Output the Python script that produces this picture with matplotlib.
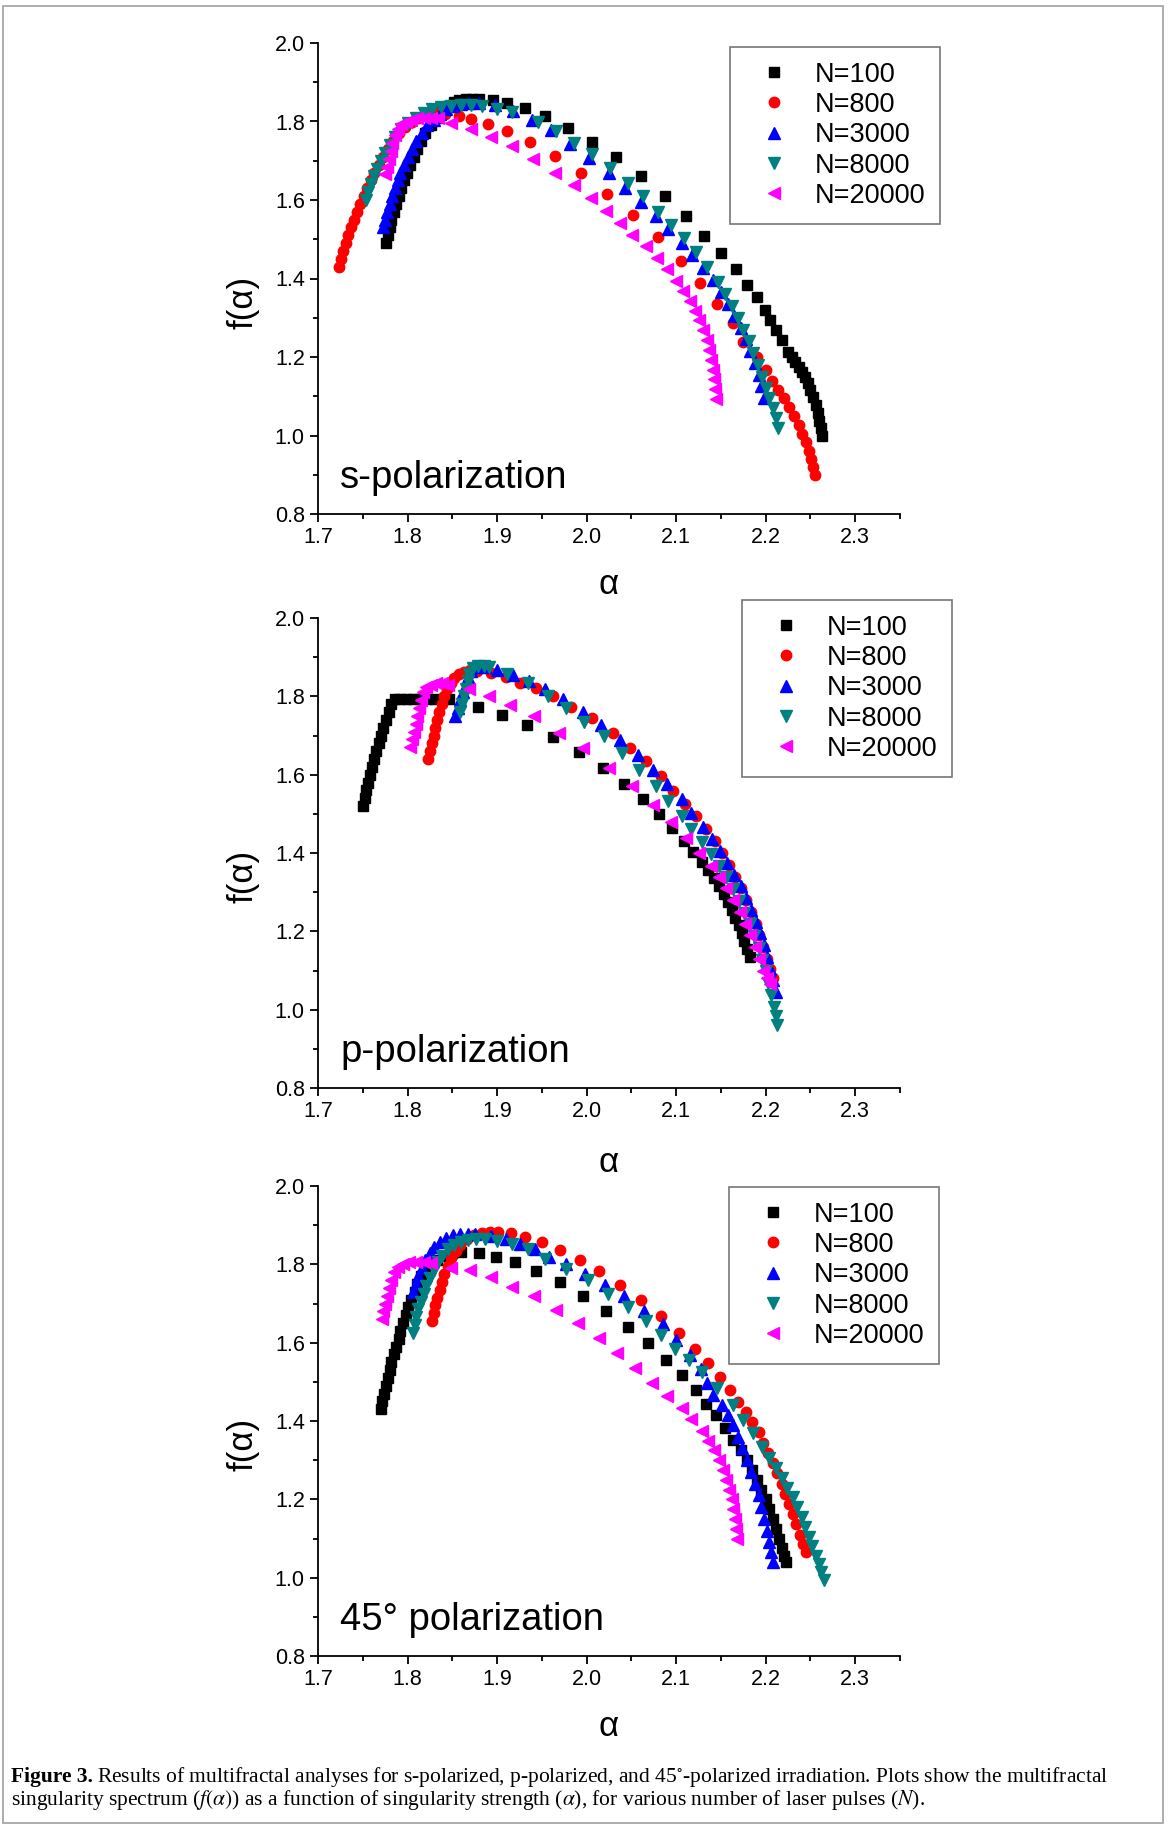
import matplotlib
matplotlib.use("Agg")
import matplotlib.pyplot as plt
from matplotlib.patches import Rectangle
from matplotlib.ticker import MultipleLocator

plt.rcParams['font.family'] = ['Liberation Sans', 'DejaVu Sans']
plt.rcParams['mathtext.fontset'] = 'stix'

labels = ["N=100", "N=800", "N=3000", "N=8000", "N=20000"]
colors = ["#000000", "#ff0000", "#0000ff", "#008080", "#ff00ff"]
markers = ["s", "o", "^", "v", "<"]
msizes = [7.0, 7.5, 8.0, 8.0, 8.0]

panel_names = ["s-polarization", "p-polarization", "45\u00b0 polarization"]

# (alpha, f(alpha))
# --- s-polarization ---
s_n100 = [(1.776,1.49),(1.778,1.51),(1.780,1.53),(1.782,1.55),(1.785,1.57),(1.787,1.59),(1.790,1.61),(1.793,1.63),(1.796,1.65),(1.799,1.67),(1.803,1.69),(1.807,1.71),(1.811,1.73),(1.815,1.75),(1.820,1.77),(1.826,1.79),(1.832,1.81),(1.838,1.825),(1.845,1.84),(1.852,1.85),(1.858,1.855),(1.865,1.857),(1.872,1.857),(1.880,1.857),(1.895,1.856),(1.911,1.847),(1.931,1.834),(1.953,1.813),(1.979,1.784),(2.006,1.749),(2.033,1.709),(2.061,1.661),(2.087,1.611),(2.111,1.560),(2.131,1.508),(2.150,1.465),(2.167,1.424),(2.179,1.383),(2.190,1.353),(2.199,1.320),(2.205,1.294),(2.212,1.269),(2.218,1.243),(2.225,1.213),(2.229,1.200),(2.233,1.187),(2.237,1.174),(2.241,1.162),(2.244,1.148),(2.247,1.134),(2.250,1.116),(2.253,1.098),(2.256,1.078),(2.258,1.058),(2.260,1.038),(2.262,1.018),(2.263,1.000)]
s_n800 = [(1.724,1.43),(1.726,1.45),(1.728,1.47),(1.731,1.49),(1.734,1.51),(1.737,1.53),(1.740,1.55),(1.743,1.57),(1.747,1.59),(1.751,1.61),(1.755,1.63),(1.759,1.65),(1.763,1.67),(1.768,1.69),(1.773,1.71),(1.778,1.73),(1.784,1.75),(1.790,1.77),(1.797,1.785),(1.805,1.80),(1.813,1.81),(1.822,1.818),(1.832,1.821),(1.842,1.82),(1.857,1.814),(1.871,1.807),(1.890,1.793),(1.911,1.775),(1.937,1.747),(1.965,1.712),(1.994,1.668),(2.023,1.616),(2.052,1.562),(2.080,1.505),(2.105,1.445),(2.127,1.389),(2.146,1.335),(2.163,1.287),(2.175,1.238),(2.190,1.200),(2.200,1.167),(2.207,1.140),(2.214,1.116),(2.220,1.095),(2.226,1.072),(2.232,1.050),(2.237,1.028),(2.241,1.005),(2.245,0.983),(2.248,0.960),(2.251,0.940),(2.253,0.920),(2.255,0.900)]
s_n3000 = [(1.773,1.53),(1.775,1.55),(1.777,1.57),(1.780,1.59),(1.783,1.61),(1.786,1.63),(1.789,1.65),(1.792,1.67),(1.796,1.69),(1.800,1.71),(1.805,1.73),(1.810,1.75),(1.816,1.77),(1.822,1.79),(1.829,1.805),(1.836,1.82),(1.843,1.832),(1.851,1.84),(1.860,1.845),(1.869,1.847),(1.880,1.848),(1.898,1.841),(1.918,1.827),(1.939,1.805),(1.960,1.778),(1.982,1.743),(2.003,1.707),(2.025,1.668),(2.043,1.630),(2.061,1.594),(2.077,1.560),(2.091,1.525),(2.106,1.491),(2.118,1.460),(2.130,1.428),(2.141,1.395),(2.150,1.365),(2.158,1.335),(2.165,1.305),(2.172,1.275),(2.178,1.245),(2.183,1.215),(2.188,1.185),(2.192,1.155),(2.195,1.125),(2.198,1.095)]
s_n8000 = [(1.754,1.60),(1.756,1.62),(1.759,1.64),(1.762,1.66),(1.766,1.68),(1.770,1.70),(1.775,1.72),(1.780,1.74),(1.786,1.76),(1.793,1.78),(1.801,1.797),(1.809,1.81),(1.818,1.822),(1.827,1.831),(1.837,1.837),(1.848,1.840),(1.860,1.841),(1.871,1.841),(1.883,1.839),(1.900,1.833),(1.917,1.824),(1.946,1.800),(1.966,1.775),(1.986,1.746),(2.006,1.717),(2.026,1.682),(2.046,1.643),(2.063,1.609),(2.080,1.570),(2.094,1.536),(2.109,1.502),(2.122,1.467),(2.135,1.430),(2.147,1.390),(2.155,1.360),(2.162,1.330),(2.169,1.300),(2.175,1.270),(2.181,1.240),(2.186,1.210),(2.191,1.180),(2.196,1.150),(2.200,1.120),(2.204,1.095),(2.208,1.070),(2.211,1.045),(2.214,1.020)]
s_n20000 = [(1.775,1.665),(1.777,1.685),(1.779,1.705),(1.781,1.725),(1.783,1.745),(1.786,1.765),(1.789,1.780),(1.793,1.793),(1.798,1.800),(1.804,1.805),(1.811,1.808),(1.818,1.810),(1.826,1.810),(1.834,1.808),(1.849,1.795),(1.871,1.780),(1.893,1.761),(1.917,1.738),(1.940,1.704),(1.965,1.668),(1.986,1.638),(2.005,1.604),(2.022,1.572),(2.037,1.541),(2.051,1.511),(2.066,1.482),(2.079,1.453),(2.090,1.423),(2.100,1.394),(2.108,1.368),(2.115,1.343),(2.121,1.318),(2.126,1.293),(2.130,1.268),(2.134,1.243),(2.137,1.218),(2.139,1.193),(2.141,1.168),(2.142,1.143),(2.143,1.118),(2.144,1.093)]

# --- p-polarization ---
p_n100 = [(1.750,1.52),(1.752,1.54),(1.754,1.56),(1.756,1.58),(1.758,1.60),(1.760,1.62),(1.763,1.64),(1.765,1.66),(1.768,1.68),(1.770,1.70),(1.773,1.72),(1.776,1.74),(1.779,1.76),(1.782,1.78),(1.786,1.792),(1.792,1.794),(1.799,1.794),(1.806,1.794),(1.814,1.794),(1.822,1.794),(1.831,1.794),(1.846,1.792),(1.879,1.773),(1.906,1.752),(1.933,1.726),(1.963,1.696),(1.991,1.658),(2.018,1.618),(2.042,1.577),(2.063,1.537),(2.081,1.499),(2.095,1.463),(2.109,1.430),(2.119,1.403),(2.129,1.376),(2.136,1.356),(2.142,1.335),(2.148,1.315),(2.153,1.295),(2.158,1.275),(2.162,1.255),(2.166,1.235),(2.170,1.215),(2.173,1.195),(2.176,1.175),(2.179,1.155),(2.182,1.135)]
p_n800 = [(1.823,1.64),(1.825,1.66),(1.827,1.68),(1.829,1.70),(1.831,1.72),(1.833,1.74),(1.835,1.76),(1.838,1.78),(1.841,1.80),(1.844,1.82),(1.848,1.835),(1.852,1.848),(1.857,1.857),(1.863,1.863),(1.870,1.866),(1.878,1.864),(1.893,1.860),(1.910,1.849),(1.926,1.834),(1.943,1.821),(1.963,1.801),(1.983,1.773),(2.006,1.745),(2.029,1.707),(2.049,1.669),(2.066,1.634),(2.083,1.596),(2.097,1.559),(2.110,1.526),(2.122,1.494),(2.133,1.461),(2.143,1.430),(2.151,1.400),(2.159,1.370),(2.166,1.340),(2.172,1.310),(2.178,1.280),(2.184,1.250),(2.189,1.220),(2.193,1.190),(2.197,1.160),(2.201,1.130),(2.205,1.105),(2.208,1.080)]
p_n3000 = [(1.853,1.75),(1.856,1.77),(1.859,1.79),(1.862,1.81),(1.865,1.83),(1.868,1.85),(1.871,1.865),(1.875,1.875),(1.880,1.877),(1.886,1.876),(1.900,1.868),(1.918,1.855),(1.936,1.838),(1.954,1.819),(1.974,1.792),(1.996,1.759),(2.016,1.726),(2.037,1.688),(2.057,1.650),(2.074,1.611),(2.090,1.575),(2.106,1.537),(2.117,1.502),(2.130,1.466),(2.140,1.435),(2.149,1.405),(2.157,1.375),(2.165,1.345),(2.172,1.315),(2.178,1.285),(2.184,1.255),(2.189,1.225),(2.194,1.195),(2.198,1.165),(2.202,1.135),(2.205,1.105),(2.208,1.075),(2.211,1.045)]
p_n8000 = [(1.859,1.76),(1.861,1.78),(1.863,1.80),(1.865,1.82),(1.867,1.84),(1.869,1.858),(1.873,1.872),(1.879,1.878),(1.885,1.878),(1.891,1.875),(1.911,1.858),(1.934,1.835),(1.957,1.802),(1.977,1.771),(1.997,1.735),(2.019,1.698),(2.040,1.655),(2.059,1.613),(2.077,1.570),(2.091,1.532),(2.106,1.494),(2.117,1.461),(2.129,1.428),(2.139,1.398),(2.148,1.368),(2.156,1.338),(2.163,1.308),(2.170,1.278),(2.176,1.248),(2.182,1.218),(2.187,1.188),(2.192,1.158),(2.196,1.128),(2.200,1.098),(2.203,1.068),(2.206,1.038),(2.209,1.008),(2.211,0.985),(2.213,0.962)]
p_n20000 = [(1.803,1.67),(1.805,1.69),(1.807,1.71),(1.809,1.73),(1.811,1.75),(1.813,1.77),(1.815,1.79),(1.817,1.81),(1.821,1.823),(1.826,1.830),(1.832,1.833),(1.838,1.833),(1.845,1.830),(1.869,1.818),(1.891,1.801),(1.914,1.778),(1.941,1.750),(1.969,1.707),(1.996,1.669),(2.025,1.617),(2.051,1.570),(2.074,1.523),(2.094,1.480),(2.111,1.438),(2.126,1.400),(2.139,1.367),(2.148,1.340),(2.156,1.310),(2.164,1.280),(2.171,1.250),(2.177,1.220),(2.183,1.190),(2.188,1.160),(2.193,1.130),(2.197,1.100),(2.201,1.080),(2.205,1.065)]

# --- 45 degree polarization ---
t_n100 = [(1.770,1.43),(1.772,1.45),(1.774,1.47),(1.776,1.49),(1.778,1.51),(1.780,1.53),(1.782,1.55),(1.785,1.57),(1.787,1.59),(1.790,1.61),(1.792,1.63),(1.795,1.65),(1.798,1.67),(1.801,1.69),(1.804,1.71),(1.808,1.73),(1.811,1.75),(1.815,1.77),(1.820,1.785),(1.826,1.800),(1.833,1.812),(1.841,1.822),(1.850,1.828),(1.860,1.832),(1.880,1.830),(1.899,1.819),(1.920,1.805),(1.944,1.783),(1.970,1.755),(1.996,1.718),(2.022,1.682),(2.046,1.640),(2.069,1.599),(2.089,1.555),(2.107,1.517),(2.122,1.479),(2.133,1.444),(2.144,1.415),(2.155,1.382),(2.164,1.351),(2.172,1.325),(2.179,1.300),(2.185,1.275),(2.190,1.250),(2.195,1.225),(2.200,1.200),(2.204,1.175),(2.208,1.150),(2.212,1.125),(2.215,1.100),(2.218,1.075),(2.221,1.055),(2.223,1.040)]
t_n800 = [(1.827,1.655),(1.829,1.675),(1.831,1.695),(1.833,1.715),(1.836,1.735),(1.838,1.755),(1.841,1.775),(1.845,1.795),(1.849,1.815),(1.854,1.835),(1.859,1.850),(1.866,1.865),(1.874,1.875),(1.883,1.880),(1.892,1.882),(1.901,1.882),(1.916,1.880),(1.931,1.869),(1.950,1.857),(1.970,1.836),(1.993,1.812),(2.014,1.783),(2.037,1.748),(2.061,1.708),(2.083,1.668),(2.103,1.625),(2.121,1.583),(2.136,1.548),(2.149,1.512),(2.160,1.479),(2.169,1.448),(2.178,1.423),(2.185,1.397),(2.192,1.372),(2.197,1.344),(2.203,1.318),(2.208,1.292),(2.213,1.266),(2.218,1.240),(2.222,1.214),(2.226,1.188),(2.230,1.162),(2.234,1.136),(2.238,1.110),(2.242,1.085),(2.245,1.065)]
t_n3000 = [(1.806,1.73),(1.809,1.75),(1.812,1.77),(1.816,1.79),(1.820,1.81),(1.825,1.83),(1.830,1.845),(1.836,1.858),(1.843,1.868),(1.851,1.874),(1.859,1.877),(1.867,1.878),(1.875,1.877),(1.893,1.873),(1.910,1.865),(1.926,1.852),(1.942,1.838),(1.958,1.820),(1.977,1.800),(1.998,1.776),(2.020,1.748),(2.042,1.718),(2.064,1.682),(2.085,1.647),(2.100,1.607),(2.116,1.569),(2.128,1.533),(2.135,1.497),(2.141,1.466),(2.151,1.441),(2.158,1.415),(2.163,1.390),(2.169,1.360),(2.174,1.330),(2.179,1.300),(2.184,1.270),(2.188,1.240),(2.192,1.210),(2.195,1.180),(2.198,1.150),(2.201,1.120),(2.204,1.090),(2.206,1.065),(2.208,1.040)]
t_n8000 = [(1.806,1.625),(1.808,1.645),(1.810,1.665),(1.812,1.685),(1.815,1.705),(1.818,1.725),(1.821,1.745),(1.825,1.765),(1.829,1.785),(1.834,1.805),(1.839,1.822),(1.845,1.838),(1.852,1.850),(1.860,1.858),(1.868,1.862),(1.877,1.864),(1.886,1.864),(1.900,1.860),(1.917,1.852),(1.934,1.838),(1.954,1.814),(1.977,1.789),(2.001,1.760),(2.024,1.725),(2.046,1.690),(2.066,1.655),(2.083,1.620),(2.099,1.585),(2.114,1.555),(2.129,1.525),(2.146,1.484),(2.163,1.441),(2.175,1.402),(2.186,1.369),(2.196,1.334),(2.204,1.305),(2.211,1.280),(2.218,1.255),(2.224,1.230),(2.230,1.205),(2.235,1.180),(2.240,1.155),(2.244,1.130),(2.248,1.105),(2.252,1.080),(2.256,1.055),(2.259,1.035),(2.262,1.015),(2.265,0.995)]
t_n20000 = [(1.771,1.660),(1.773,1.680),(1.775,1.700),(1.777,1.720),(1.779,1.740),(1.782,1.760),(1.785,1.780),(1.789,1.792),(1.795,1.800),(1.802,1.805),(1.810,1.806),(1.818,1.806),(1.826,1.804),(1.849,1.791),(1.870,1.786),(1.893,1.767),(1.917,1.743),(1.941,1.720),(1.966,1.684),(1.990,1.649),(2.014,1.611),(2.034,1.574),(2.054,1.536),(2.073,1.498),(2.090,1.465),(2.106,1.434),(2.117,1.404),(2.129,1.375),(2.136,1.350),(2.142,1.325),(2.148,1.300),(2.152,1.275),(2.156,1.250),(2.159,1.225),(2.162,1.200),(2.164,1.175),(2.166,1.150),(2.167,1.125),(2.168,1.100)]

panels = [
    [s_n100, s_n800, s_n3000, s_n8000, s_n20000],
    [p_n100, p_n800, p_n3000, p_n8000, p_n20000],
    [t_n100, t_n800, t_n3000, t_n8000, t_n20000],
]

W, H = 1168, 1827
fig = plt.figure(figsize=(W / 100, H / 100), dpi=100)

# axes boxes in pixels: left, top, right, bottom
boxes = [(318, 43, 900, 514), (318, 618, 900, 1088), (318, 1186, 900, 1656)]
legend_at = [(730, 47), (742, 600), (729, 1187)]
xlabel_y = [585, 1163, 1726]

for i, series in enumerate(panels):
    l, t, r, b = boxes[i]
    ax = fig.add_axes([l / W, 1 - b / H, (r - l) / W, (b - t) / H])
    for k, pts in enumerate(series):
        a = [p[0] for p in pts]
        f = [p[1] for p in pts]
        ax.plot(a, f, linestyle='none', marker=markers[k], ms=msizes[k],
                color=colors[k], mec=colors[k], label=labels[k], clip_on=False)

    ax.set_xlim(1.7, 2.35)
    ax.set_ylim(0.8, 2.0)
    ax.xaxis.set_major_locator(MultipleLocator(0.1))
    ax.xaxis.set_minor_locator(MultipleLocator(0.05))
    ax.yaxis.set_major_locator(MultipleLocator(0.2))
    ax.yaxis.set_minor_locator(MultipleLocator(0.1))
    ax.xaxis.set_major_formatter(plt.FormatStrFormatter('%.1f'))
    ax.yaxis.set_major_formatter(plt.FormatStrFormatter('%.1f'))
    for s in ['top', 'right']:
        ax.spines[s].set_visible(False)
    for s in ['left', 'bottom']:
        ax.spines[s].set_linewidth(1.3)
    ax.tick_params(which='major', direction='out', length=6, width=1.3,
                   labelsize=15.5, pad=3.5)
    ax.tick_params(which='minor', direction='out', length=3.5, width=1.3)

    ax.set_ylabel('f(\u03b1)', fontsize=25, va='center', ha='center')
    ax.yaxis.set_label_coords(-75 / (r - l), 0.45)
    ax.set_xlabel('\u03b1', fontsize=25, va='center')
    ax.xaxis.set_label_coords(0.5, -(xlabel_y[i] - b) / (b - t))

    ax.text(22 / (r - l), 26 / (b - t), panel_names[i], transform=ax.transAxes,
            fontsize=27.5, va='baseline', ha='left')

    lx, ly = legend_at[i]
    leg = ax.legend(loc='upper left', bbox_to_anchor=(lx / W, 1 - ly / H),
                    bbox_transform=fig.transFigure, borderaxespad=0,
                    fontsize=19.5, frameon=True, fancybox=False,
                    handlelength=2.2, handletextpad=0.4, borderpad=0.54,
                    labelspacing=0.16, numpoints=1, markerscale=1.0)
    leg.get_frame().set_edgecolor('#555555')
    leg.get_frame().set_linewidth(1.2)

# caption
cap_font = ['Liberation Serif', 'DejaVu Serif']
t1 = fig.text(11 / W, 1 - 1782 / H, 'Figure 3.', fontsize=15.5, fontweight='bold',
              family=cap_font, va='baseline')
fig.canvas.draw()
bb = t1.get_window_extent(fig.canvas.get_renderer())
fig.text((bb.x1 + 4) / W, 1 - 1782 / H,
         'Results of multifractal analyses for s-polarized, p-polarized, and '
         '45$^{\\circ}$-polarized irradiation. Plots show the multifractal',
         fontsize=15.5, family=cap_font, va='baseline')
fig.text(11 / W, 1 - 1805 / H,
         'singularity spectrum ($f(\\alpha)$) as a function of singularity strength '
         '($\\alpha$), for various number of laser pulses ($N$).',
         fontsize=15.5, family=cap_font, va='baseline')

# thin frame around the whole figure
fig.add_artist(Rectangle((3 / W, 1 - 1823 / H), 1160 / W, 1817 / H,
                         transform=fig.transFigure, fill=False,
                         ec='#a0a0a0', lw=1.2))

fig.savefig('out.png', dpi=100)
